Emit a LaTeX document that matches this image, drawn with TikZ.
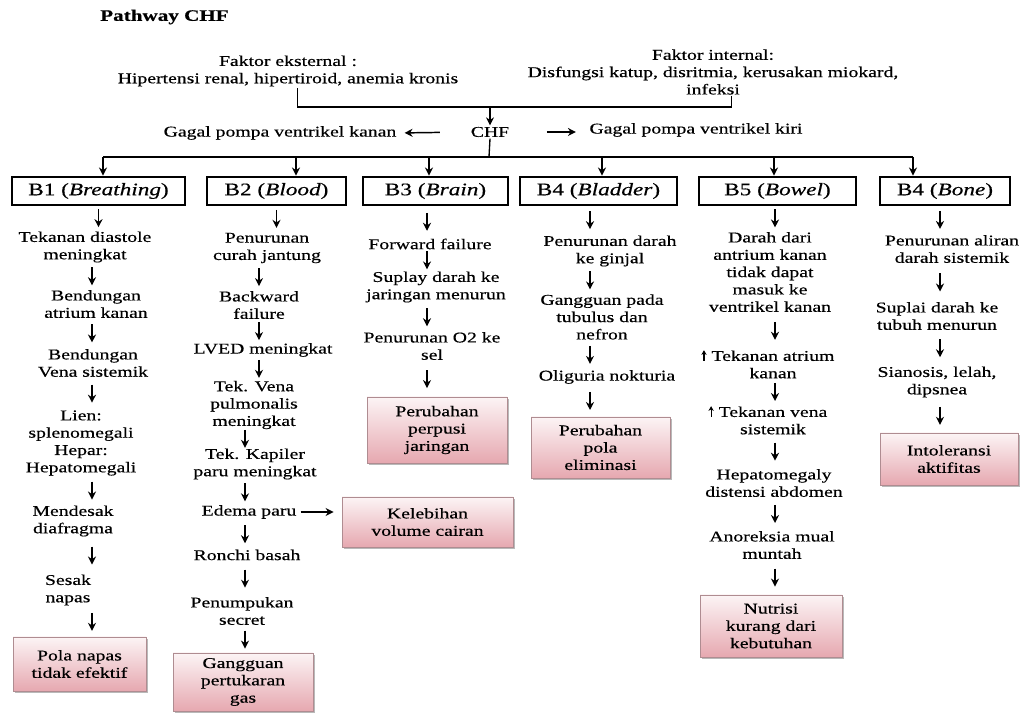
\documentclass[tikz,border=0pt]{standalone}
\usepackage{fontspec}
\setmainfont{Liberation Serif}[FakeStretch=1.32, FakeBold=0.4]
\usetikzlibrary{arrows.meta, shadows, calc}
\definecolor{pinktop}{RGB}{252, 244, 245}
\definecolor{pinkbot}{RGB}{230, 168, 176}
\definecolor{pinkedge}{RGB}{175, 140, 145}
\newcommand{\bodyfont}{\fontsize{11.2}{13}\selectfont}
\newcommand{\boxfont}{\fontsize{13.2}{15}\selectfont}
\newcommand{\uparr}{\tikz[baseline]\draw[line width=0.9pt, -{Stealth[length=3.5pt, width=4pt]}] (0,0) -- (0,8pt);}
\newcommand{\flowar}[2]{\draw[arr] ($(#1)!0.5!(#2)+(0,-9)$) -- ($(#1)!0.5!(#2)+(0,9)$);}

\begin{document}
\begin{tikzpicture}[x=0.75pt, y=-0.75pt, font=\bodyfont,
                txt/.style={align=center, inner sep=1pt},
                bbox/.style={draw, line width=2.2pt, minimum height=21pt, inner sep=2pt, font=\boxfont},
                dxbox/.style={draw=pinkedge, line width=0.6pt, top color=pinktop, bottom color=pinkbot,
                    align=center, inner sep=2pt,
                    drop shadow={shadow xshift=1.6pt, shadow yshift=-1.6pt, fill=black!50, opacity=0.55}},
                conn/.style={line width=1pt},
                arr/.style={line width=1.1pt, -{Stealth[length=6pt, width=6pt]}}
            ]
            \fill[white] (0,0) rectangle (1022,716);
            \useasboundingbox (0,0) rectangle (1022,716);

            \node[anchor=west, inner sep=0pt, font=\fontsize{12}{14}\selectfont\bfseries] (title) at (100,17) {Pathway CHF};

            \node[txt] (fext) at (288,71) {Faktor eksternal :\\Hipertensi renal, hipertiroid, anemia kronis};
            \node[txt] (fint) at (713,72) {Faktor internal:\\Disfungsi katup, disritmia, kerusakan miokard,\\infeksi};
            \node[txt] (chf) at (490,132) {CHF};
            \node[txt] (gkanan) at (280,133) {Gagal pompa ventrikel kanan};
            \node[txt] (gkiri) at (696,130) {Gagal pompa ventrikel kiri};

            \coordinate (jn) at (490,107);
            \draw[conn] ([xshift=7pt]fext.south) |- (jn) -| ([xshift=14pt]fint.south);
            \draw[arr] (jn) -- (chf.north);
            \draw[arr, shorten <=22pt, shorten >=5pt] (chf.west) -- (gkanan.east);
            \draw[arr, shorten <=27pt, shorten >=9pt] (chf.east) -- (chf.east -| gkiri.west);

            \node[bbox, minimum width=129.75pt] (b1) at (98.5,191) {B1 (\textit{Breathing})};
            \node[bbox, minimum width=104.25pt] (b2) at (276.5,191) {B2 (\textit{Blood})};
            \node[bbox, minimum width=108.75pt] (b3) at (435.5,191) {B3 (\textit{Brain})};
            \node[bbox, minimum width=117.75pt] (b4) at (598.5,191) {B4 (\textit{Bladder})};
            \node[bbox, minimum width=117.75pt] (b5) at (777.5,191) {B5 (\textit{Bowel})};
            \node[bbox, minimum width=97.5pt] (b6) at (945,191) {B4 (\textit{Bone})};

            \coordinate (bus) at (489,157);
            \coordinate (bus1) at (103,157);
            \coordinate (bus2) at (296,157);
            \coordinate (bus3) at (429,157);
            \coordinate (bus4) at (602,157);
            \coordinate (bus5) at (774,157);
            \coordinate (bus6) at (913,157);
            \draw[conn] (chf.south) -- (bus);
            \draw[conn] (bus1) -- (bus6);
            \foreach \i in {1,...,6}
                \draw[arr] (bus\i) -- (bus\i |- b\i.north);

            \coordinate (c1) at (92,0);
            \coordinate (c2a) at (259,0);
            \coordinate (c2b) at (245,0);
            \coordinate (c3) at (427,0);
            \coordinate (c4) at (590,0);
            \coordinate (c5) at (775,0);
            \coordinate (c6) at (940,0);

            \node[txt] (t11) at (85,247) {Tekanan diastole\\meningkat};
            \node[txt] (t12) at (96,304) {Bendungan\\atrium kanan};
            \node[txt] (t13) at (93,363) {Bendungan\\Vena sistemik};
            \node[txt] (t14) at (81,443) {Lien:\\splenomegali\\Hepar:\\Hepatomegali};
            \node[txt] (t15) at (73,521) {Mendesak\\diafragma};
            \node[txt] (t16) at (68,590) {Sesak\\napas};
            \node[dxbox, minimum width=99.75pt, minimum height=40.5pt] (d1) at (79.5,664) {Pola napas\\tidak efektif};

            \node[txt] (t21) at (267,248) {Penurunan\\curah jantung};
            \node[txt] (t22) at (259,305) {Backward\\failure};
            \node[txt] (t23) at (263,350) {LVED meningkat};
            \node[txt] (t24) at (254,405) {Tek. Vena\\pulmonalis\\meningkat};
            \node[txt] (t25) at (255,464) {Tek. Kapiler\\paru meningkat};
            \node[txt] (t26) at (249,512) {Edema paru};
            \node[txt] (t27) at (247,555) {Ronchi basah};
            \node[txt] (t28) at (242,611) {Penumpukan\\secret};
            \node[dxbox, minimum width=105pt, minimum height=43.5pt] (d2) at (243,682) {Gangguan\\pertukaran\\gas};
            \node[dxbox, minimum width=128.25pt, minimum height=37.5pt] (d3) at (427.5,522) {Kelebihan\\volume cairan};

            \node[txt] (t31) at (430,244) {Forward failure};
            \node[txt] (t32) at (436,287) {Suplay darah ke\\jaringan menurun};
            \node[txt] (t33) at (432,346) {Penurunan O2 ke\\sel};
            \node[dxbox, minimum width=105pt, minimum height=49.5pt] (d4) at (437,430) {Perubahan\\perpusi\\jaringan};

            \node[txt] (t41) at (610,251) {Penurunan darah\\ke ginjal};
            \node[txt] (t42) at (602,317) {Gangguan pada\\tubulus dan\\nefron};
            \node[txt] (t43) at (607,377) {Oliguria nokturia};
            \node[dxbox, minimum width=104.25pt, minimum height=45.75pt] (d5) at (600.5,447.5) {Perubahan\\pola\\eliminasi};

            \node[txt] (t51) at (770,272) {Darah dari\\antrium kanan\\tidak dapat\\masuk ke\\ventrikel kanan};
            \node[txt] (t52) at (773,364) {\llap{\uparr\ }Tekanan atrium\\kanan};
            \node[txt] (t53) at (773,420) {\llap{\uparr\ }Tekanan vena\\sistemik};
            \node[txt] (t54) at (774,483) {Hepatomegaly\\distensi abdomen};
            \node[txt] (t55) at (772,545) {Anoreksia mual\\muntah};
            \node[dxbox, minimum width=106.5pt, minimum height=46.5pt] (d6) at (771,626) {Nutrisi\\kurang dari\\kebutuhan};

            \node[txt] (t61) at (952,249) {Penurunan aliran\\darah sistemik};
            \node[txt] (t62) at (937,316) {Suplai darah ke\\tubuh menurun};
            \node[txt] (t63) at (937,382) {Sianosis, lelah,\\dipsnea};
            \node[dxbox, minimum width=103.5pt, minimum height=39pt] (d7) at (949,459) {Intoleransi\\aktifitas};

            \flowar{b1.south}{b1.south |- t11.north}
            \flowar{t11.south -| c1}{t12.north -| c1}
            \flowar{t12.south -| c1}{t13.north -| c1}
            \flowar{t13.south -| c1}{t14.north -| c1}
            \flowar{t14.south -| c1}{t15.north -| c1}
            \flowar{t15.south -| c1}{t16.north -| c1}
            \flowar{t16.south -| c1}{d1.north -| c1}

            \flowar{b2.south}{b2.south |- t21.north}
            \flowar{t21.south -| c2a}{t22.north -| c2a}
            \flowar{t22.south -| c2a}{t23.north -| c2a}
            \flowar{t23.south -| c2a}{t24.north -| c2a}
            \flowar{t24.south -| c2b}{t25.north -| c2b}
            \flowar{t25.south -| c2b}{t26.north -| c2b}
            \flowar{t26.south -| c2b}{t27.north -| c2b}
            \flowar{t27.south -| c2b}{t28.north -| c2b}
            \flowar{t28.south -| c2b}{d2.north -| c2b}
            \draw[arr, shorten <=2pt, shorten >=6pt] (t26.east) -- (t26.east -| d3.west);

            \flowar{b3.south -| c3}{t31.north -| c3}
            \flowar{t31.south -| c3}{t32.north -| c3}
            \flowar{t32.south -| c3}{t33.north -| c3}
            \flowar{t33.south -| c3}{d4.north -| c3}

            \flowar{b4.south -| c4}{t41.north -| c4}
            \flowar{t41.south -| c4}{t42.north -| c4}
            \flowar{t42.south -| c4}{t43.north -| c4}
            \flowar{t43.south -| c4}{d5.north -| c4}

            \flowar{b5.south -| c5}{t51.north -| c5}
            \flowar{t51.south -| c5}{t52.north -| c5}
            \flowar{t52.south -| c5}{t53.north -| c5}
            \flowar{t53.south -| c5}{t54.north -| c5}
            \flowar{t54.south -| c5}{t55.north -| c5}
            \flowar{t55.south -| c5}{d6.north -| c5}

            \flowar{b6.south -| c6}{t61.north -| c6}
            \flowar{t61.south -| c6}{t62.north -| c6}
            \flowar{t62.south -| c6}{t63.north -| c6}
            \flowar{t63.south -| c6}{d7.north -| c6}

            \end{tikzpicture}
\end{document}
